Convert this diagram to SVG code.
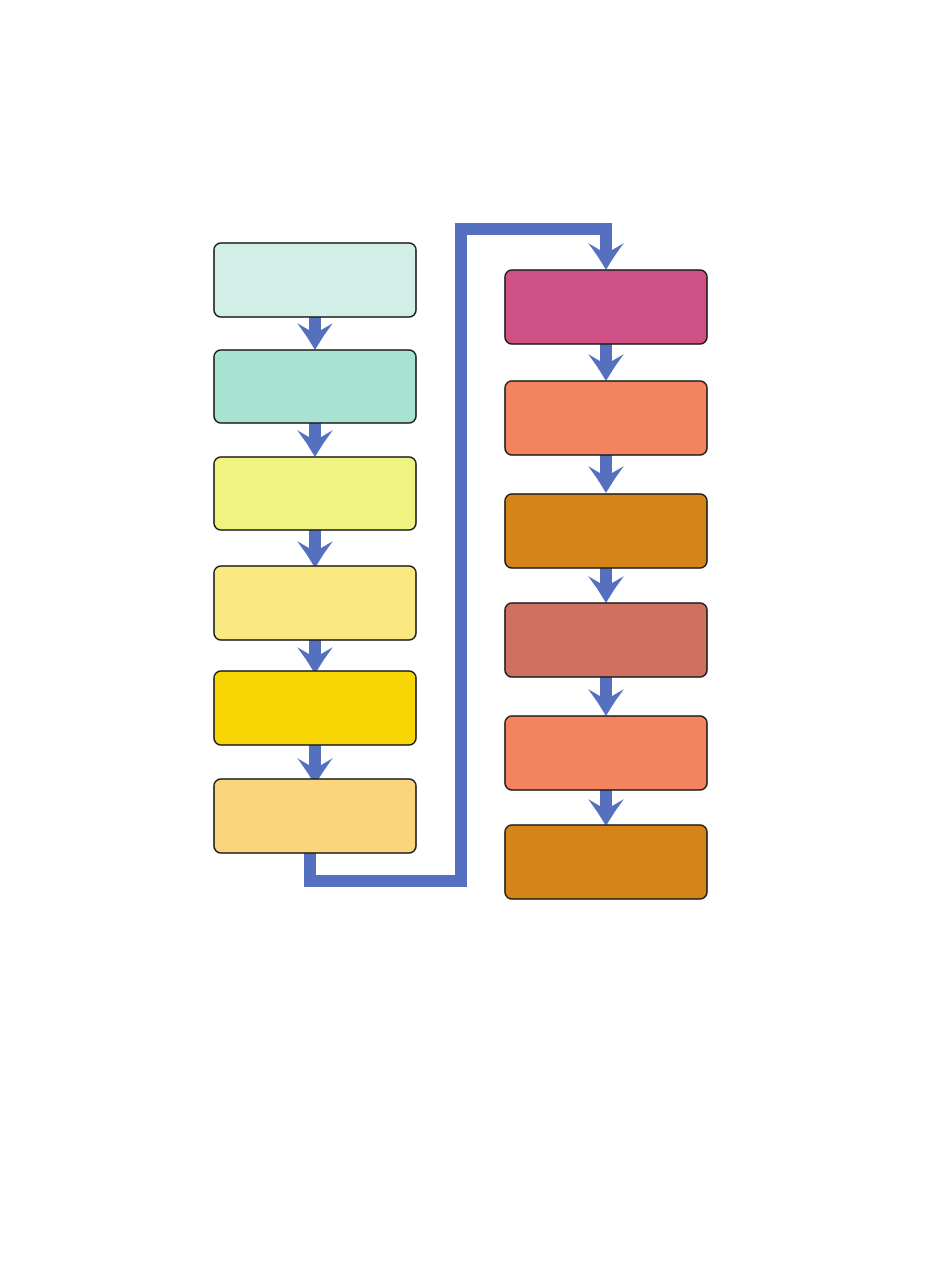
<svg xmlns="http://www.w3.org/2000/svg" xmlns:xlink="http://www.w3.org/1999/xlink" width="950" height="1267" viewBox="0 0 950 1267">
<style>
.box{stroke:#1e1e1e;stroke-width:1.6}
.flow{fill:none;stroke:#5470BF;stroke-width:12}
.head{fill:#5470BF}
</style>
<defs>
<path id="ah" d="M0,0 Q-8,-14 -18,-27 L-6,-20 L6,-20 L18,-27 Q8,-14 0,0 Z"/>
</defs>
<rect width="950" height="1267" fill="#fff"/>
<g id="connectors">
<path class="flow" d="M315,317 V340"/><use href="#ah" class="head" x="315" y="350"/>
<path class="flow" d="M315,423 V447"/><use href="#ah" class="head" x="315" y="457"/>
<path class="flow" d="M315,530 V558"/><use href="#ah" class="head" x="315" y="568"/>
<path class="flow" d="M315,640 V664"/><use href="#ah" class="head" x="315" y="674"/>
<path class="flow" d="M315,745 V775"/><use href="#ah" class="head" x="315" y="785"/>
<path class="flow" d="M310,853 V881 H461 V229 H606 V260"/><use href="#ah" class="head" x="606" y="270"/>
<path class="flow" d="M606,344 V371"/><use href="#ah" class="head" x="606" y="381"/>
<path class="flow" d="M606,455 V483"/><use href="#ah" class="head" x="606" y="493"/>
<path class="flow" d="M606,568 V593"/><use href="#ah" class="head" x="606" y="603"/>
<path class="flow" d="M606,677 V706"/><use href="#ah" class="head" x="606" y="716"/>
<path class="flow" d="M606,790 V816"/><use href="#ah" class="head" x="606" y="826"/>
</g>
<g id="n1"><rect class="box" x="214" y="243" width="202" height="74" rx="7" fill="#D1EFE6"/></g>
<g id="n2"><rect class="box" x="214" y="350" width="202" height="73" rx="7" fill="#A8E2D1"/></g>
<g id="n3"><rect class="box" x="214" y="457" width="202" height="73" rx="7" fill="#EEF47F"/></g>
<g id="n4"><rect class="box" x="214" y="566" width="202" height="74" rx="7" fill="#FAE880"/></g>
<g id="n5"><rect class="box" x="214" y="671" width="202" height="74" rx="7" fill="#F8D605"/></g>
<g id="n6"><rect class="box" x="214" y="779" width="202" height="74" rx="7" fill="#FAD57D"/></g>
<g id="n7"><rect class="box" x="505" y="270" width="202" height="74" rx="7" fill="#CF5085"/></g>
<g id="n8"><rect class="box" x="505" y="381" width="202" height="74" rx="7" fill="#F3845E"/></g>
<g id="n9"><rect class="box" x="505" y="494" width="202" height="74" rx="7" fill="#D58417"/></g>
<g id="n10"><rect class="box" x="505" y="603" width="202" height="74" rx="7" fill="#D07060"/></g>
<g id="n11"><rect class="box" x="505" y="716" width="202" height="74" rx="7" fill="#F3845E"/></g>
<g id="n12"><rect class="box" x="505" y="825" width="202" height="74" rx="7" fill="#D58417"/></g>
</svg>
